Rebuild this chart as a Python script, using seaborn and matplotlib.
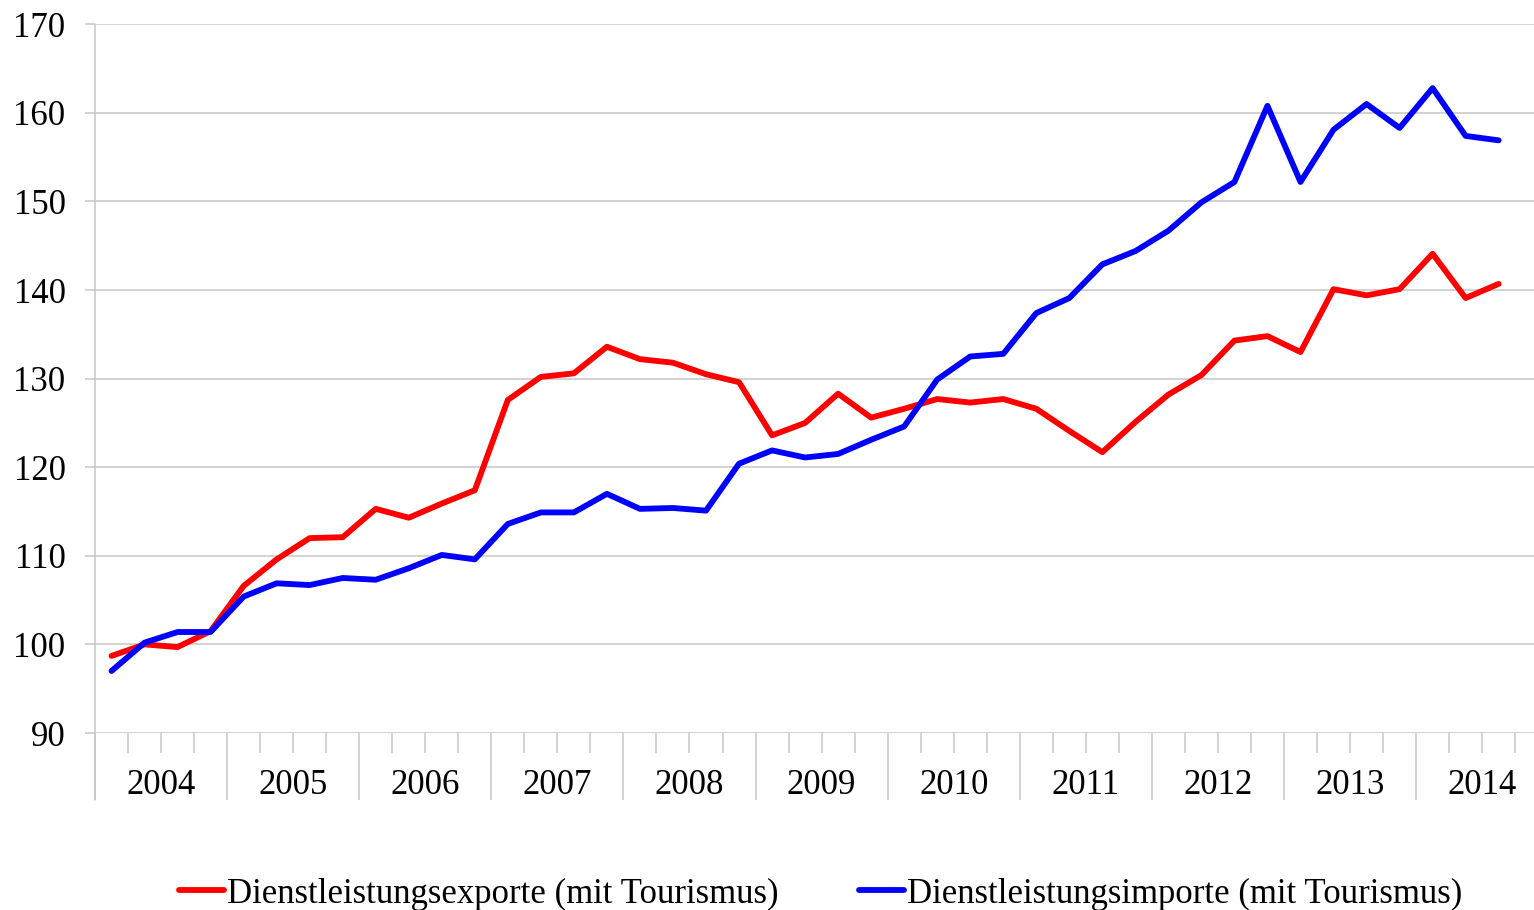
import pandas as pd
import matplotlib.pyplot as plt
import seaborn as sns
from matplotlib.lines import Line2D

# quarterly index values, 2004Q1 .. 2014Q3
years = ['2004', '2005', '2006', '2007', '2008', '2009', '2010', '2011', '2012', '2013', '2014']
exports = [98.7, 100.0, 99.7, 101.5, 106.6, 109.6, 112.0, 112.1, 115.3, 114.3, 115.9, 117.4,
           127.6, 130.2, 130.6, 133.6, 132.2, 131.8, 130.5, 129.6, 123.6, 125.0, 128.3, 125.6,
           126.6, 127.7, 127.3, 127.7, 126.6, 124.1, 121.7, 125.1, 128.2, 130.4, 134.3, 134.8,
           133.0, 140.1, 139.4, 140.1, 144.1, 139.1, 140.7]
imports = [97.0, 100.2, 101.4, 101.4, 105.4, 106.9, 106.7, 107.5, 107.3, 108.6, 110.1, 109.6,
           113.6, 114.9, 114.9, 117.0, 115.3, 115.4, 115.1, 120.4, 121.9, 121.1, 121.5, 123.1,
           124.6, 129.9, 132.5, 132.8, 137.4, 139.1, 142.9, 144.4, 146.7, 149.9, 152.2, 160.8,
           152.2, 158.1, 161.0, 158.3, 162.8, 157.4, 156.9]
series_names = ['Dienstleistungsexporte (mit Tourismus)', 'Dienstleistungsimporte (mit Tourismus)']

df = pd.concat([
    pd.DataFrame({'q': range(len(exports)), 'value': exports, 'series': series_names[0]}),
    pd.DataFrame({'q': range(len(imports)), 'value': imports, 'series': series_names[1]}),
])

sns.set_style('white')
plt.rcParams['font.family'] = ['Liberation Serif', 'DejaVu Serif']
plt.rcParams['text.color'] = 'black'
plt.rcParams['xtick.labelcolor'] = 'black'
plt.rcParams['ytick.labelcolor'] = 'black'

fig = plt.figure(figsize=(15.34, 9.10), dpi=100)
ax = fig.add_axes([95 / 1534, 1 - 733 / 910, 1 - 95 / 1534, (733 - 24.3) / 910])

grid_col = '#c6c6c6'
sns.lineplot(data=df, x='q', y='value', hue='series', ax=ax,
             palette={series_names[0]: '#ff0000', series_names[1]: '#0000ff'},
             linewidth=4.2, estimator=None, legend=False)

ax.set_yticks(range(90, 171, 10))
ax.yaxis.grid(True, color=grid_col, linewidth=1.1)
ax.set_axisbelow(True)
for s in ax.spines.values():
    s.set_visible(False)
ax.set_xlabel('')
ax.set_ylabel('')

ax.tick_params(axis='y', length=7.2, width=1.1, color=grid_col, pad=14, labelsize=25, left=True)

# x axis: year separators (long) and quarter ticks (short)
n_q = len(years) * 4
ax.set_xticks([-0.5 + 4 * k for k in range(len(years) + 1)])
ax.set_xticks([-0.5 + k for k in range(n_q + 1)], minor=True)
ax.set_xticklabels([])
ax.tick_params(axis='x', which='major', length=48, width=1.1, color=grid_col, bottom=True)
ax.tick_params(axis='x', which='minor', length=14.4, width=1.1, color=grid_col, bottom=True)
ax.set_xlim(-0.5, 43.07)
ax.set_ylim(90, 170)
for k, y in enumerate(years):
    ax.text(-0.5 + 4 * k + 2, -0.074, y, transform=ax.get_xaxis_transform(),
            ha='center', va='center', fontsize=25)

# left axis line, extended down to the year band
ax.add_line(Line2D([0, 0], [1, -0.0945], transform=ax.transAxes, color=grid_col,
                   linewidth=1.1, clip_on=False))

handles = [Line2D([], [], color='#ff0000', linewidth=4.2),
           Line2D([], [], color='#0000ff', linewidth=4.2)]
fig.legend(handles, series_names, loc='center', bbox_to_anchor=(0.535, 1 - 894 / 910),
           ncol=2, frameon=False, fontsize=25, handlelength=1.3, handletextpad=0.1,
           columnspacing=2.3, borderpad=0)

fig.savefig('out.png', dpi=100)
